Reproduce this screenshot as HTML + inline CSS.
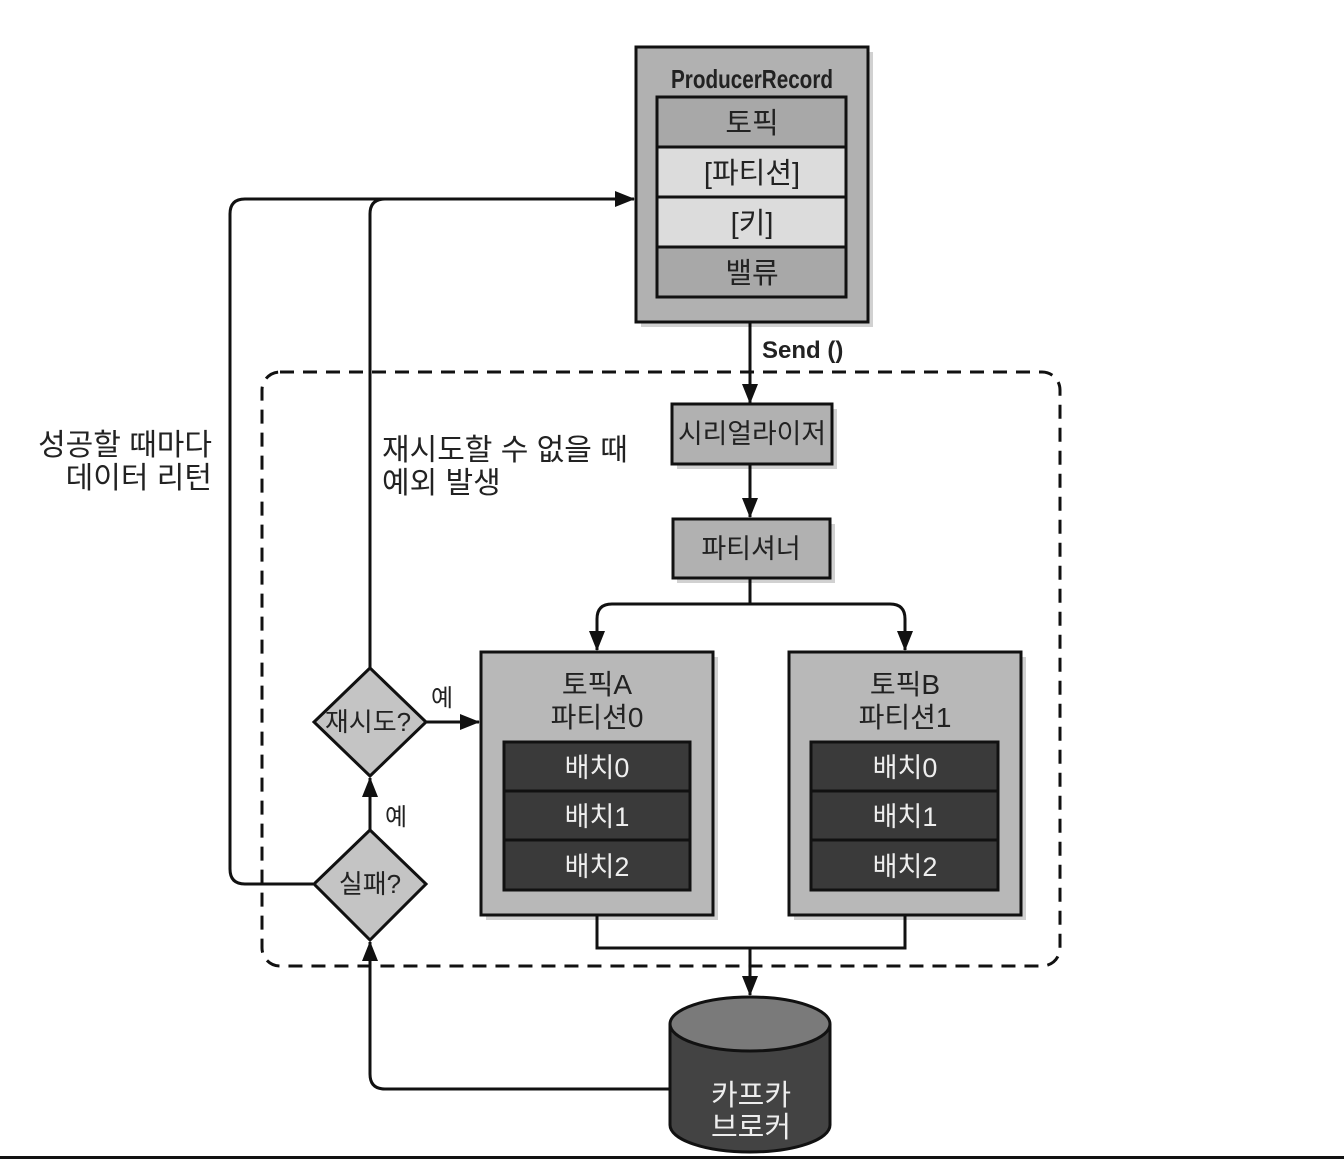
<!DOCTYPE html>
<html><head><meta charset="utf-8"><style>
html,body{margin:0;padding:0;background:#fff;}
svg{display:block;}
text{font-family:"Liberation Sans","Noto Sans CJK KR",sans-serif;}
</style></head><body>
<svg width="1344" height="1160" viewBox="0 0 1344 1160" xmlns="http://www.w3.org/2000/svg">
<defs>
<marker id="b" markerWidth="20" markerHeight="20" refX="19" refY="10" orient="auto" markerUnits="userSpaceOnUse" viewBox="0 0 20 20">
<path d="M0,2 L20,10 L0,18 z" fill="#111"/></marker>
</defs>
<g stroke="#111" stroke-width="3" fill="none">
<rect x="262" y="372" width="798" height="594" rx="18" stroke-dasharray="14,9"/>
<path d="M313,884 H245 Q230,884 230,869 V214 Q230,199 245,199 H634" marker-end="url(#b)"/>
<path d="M370,668 V214 Q370,199 385,199"/>
<path d="M750,322 V403" marker-end="url(#b)"/>
<path d="M750,464 V517" marker-end="url(#b)"/>
<path d="M750,578 V604"/>
<path d="M750,604 H612 Q597,604 597,619 V650" marker-end="url(#b)"/>
<path d="M750,604 H890 Q905,604 905,619 V650" marker-end="url(#b)"/>
<path d="M597,915 V948 H905 V915"/>
<path d="M750,948 V995" marker-end="url(#b)"/>
<path d="M670,1089 H385 Q370,1089 370,1074 V942" marker-end="url(#b)"/>
<path d="M370,830 V778" marker-end="url(#b)"/>
<path d="M426,722 H479" marker-end="url(#b)"/>
</g>
<g fill="#000" opacity="0.18">
<rect x="641" y="52" width="232" height="275"/>
<rect x="677" y="409" width="160" height="60"/>
<rect x="677" y="524" width="158" height="59"/>
<rect x="486" y="657" width="232" height="263"/>
<rect x="794" y="657" width="232" height="263"/>
</g>
<rect x="636" y="47" width="232" height="275" fill="#b1b1b1" stroke="#111" stroke-width="3"/>
<text x="752" y="88" font-size="26" text-anchor="middle" fill="#222" font-weight="bold" textLength="162" lengthAdjust="spacingAndGlyphs">ProducerRecord</text>
<rect x="657" y="97" width="189" height="50" fill="#a8a8a8" stroke="#111" stroke-width="3"/>
<rect x="657" y="147" width="189" height="50" fill="#dcdcdc" stroke="#111" stroke-width="3"/>
<rect x="657" y="197" width="189" height="50" fill="#dcdcdc" stroke="#111" stroke-width="3"/>
<rect x="657" y="247" width="189" height="50" fill="#a8a8a8" stroke="#111" stroke-width="3"/>
<g font-size="29" text-anchor="middle" fill="#222">
<text x="752" y="133">토픽</text>
<text x="752" y="183">[파티션]</text>
<text x="752" y="233">[키]</text>
<text x="752" y="283">밸류</text>
</g>
<text x="762" y="358" font-size="24" fill="#222" font-weight="bold">Send ()</text>
<rect x="672" y="404" width="160" height="60" fill="#b1b1b1" stroke="#111" stroke-width="3"/>
<text x="752" y="443" font-size="27" text-anchor="middle" fill="#222" textLength="148" lengthAdjust="spacingAndGlyphs">시리얼라이저</text>
<rect x="673" y="519" width="157" height="59" fill="#b1b1b1" stroke="#111" stroke-width="3"/>
<text x="751" y="558" font-size="27" text-anchor="middle" fill="#222">파티셔너</text>
<rect x="481" y="652" width="232" height="263" fill="#b8b8b8" stroke="#111" stroke-width="3"/>
<text x="597" y="694" font-size="28" text-anchor="middle" fill="#222">토픽A</text>
<text x="597" y="727" font-size="28" text-anchor="middle" fill="#222">파티션0</text>
<g stroke="#111" stroke-width="3" fill="#3a3a3a">
<rect x="504" y="742" width="186" height="49"/><rect x="504" y="791" width="186" height="49"/><rect x="504" y="840" width="186" height="50"/>
</g>
<rect x="789" y="652" width="232" height="263" fill="#b8b8b8" stroke="#111" stroke-width="3"/>
<g stroke="#111" stroke-width="3" fill="#3a3a3a">
<rect x="811" y="742" width="187" height="49"/><rect x="811" y="791" width="187" height="49"/><rect x="811" y="840" width="187" height="50"/>
</g>
<text x="905" y="694" font-size="28" text-anchor="middle" fill="#222">토픽B</text>
<text x="905" y="727" font-size="28" text-anchor="middle" fill="#222">파티션1</text>
<g font-size="27" text-anchor="middle" fill="#eee">
<text x="597" y="777">배치0</text><text x="597" y="826">배치1</text><text x="597" y="876">배치2</text>
<text x="905" y="777">배치0</text><text x="905" y="826">배치1</text><text x="905" y="876">배치2</text>
</g>
<polygon points="370,668 426,722 370,776 314,722" fill="#c4c4c4" stroke="#111" stroke-width="3"/>
<text x="368" y="731" font-size="26" text-anchor="middle" fill="#222">재시도?</text>
<polygon points="370,830 426,884 370,940 314,884" fill="#c4c4c4" stroke="#111" stroke-width="3"/>
<text x="370" y="893" font-size="26" text-anchor="middle" fill="#222">실패?</text>
<text x="431" y="706" font-size="24" fill="#222">예</text>
<text x="385" y="825" font-size="24" fill="#222">예</text>
<path d="M670,1024 V1125 A80,27 0 0 0 830,1125 V1024" fill="#434343" stroke="#111" stroke-width="3"/>
<ellipse cx="750" cy="1024" rx="80" ry="27" fill="#7a7a7a" stroke="#111" stroke-width="3"/>
<text x="751" y="1105" font-size="29" text-anchor="middle" fill="#eee">카프카</text>
<text x="751" y="1137" font-size="29" text-anchor="middle" fill="#eee">브로커</text>
<g font-size="30" fill="#222">
<text x="212" y="455" text-anchor="end">성공할 때마다</text>
<text x="212" y="488" text-anchor="end">데이터 리턴</text>
<text x="382" y="460">재시도할 수 없을 때</text>
<text x="382" y="493">예외 발생</text>
</g>
<rect x="0" y="1156" width="1344" height="3" fill="#111"/>
</svg>
</body></html>
